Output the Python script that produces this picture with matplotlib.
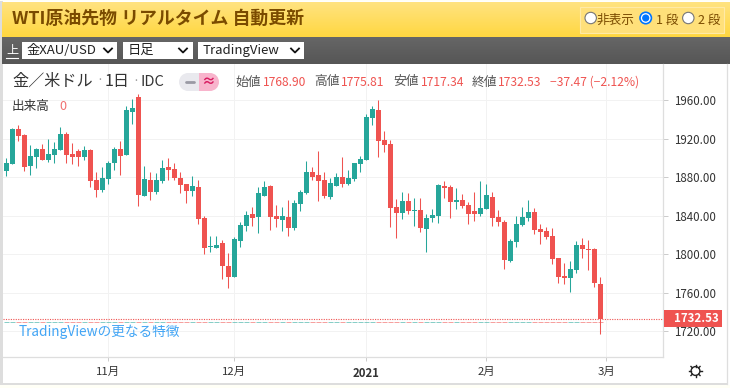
import numpy as np
import matplotlib
matplotlib.use('Agg')
import matplotlib.pyplot as plt
from matplotlib.colors import LinearSegmentedColormap
from matplotlib.patches import Circle, Rectangle

plt.rcParams['font.family'] = ['Noto Sans CJK JP', 'DejaVu Sans']

opens = [1886.6, 1893.5, 1929.9, 1923.6, 1891.4, 1900.8, 1909.1, 1897.7, 1902.9, 1908.1,
         1924.7, 1903.9, 1907.0, 1900.8, 1908.1, 1876.9, 1866.5, 1877.9, 1894.6, 1909.1,
         1902.9, 1947.5, 1963.1, 1860.3, 1876.9, 1864.4, 1875.9, 1890.4, 1888.3, 1879.0,
         1872.7, 1865.4, 1869.6, 1837.4, 1807.3, 1806.2, 1811.4, 1787.5, 1776.1, 1813.5,
         1829.1, 1841.5, 1838.4, 1860.2, 1870.6, 1839.5, 1835.3, 1838.4, 1827.0, 1851.9,
         1863.4, 1885.2, 1882.1, 1876.9, 1859.2, 1870.6, 1880.0, 1872.7, 1877.9, 1893.5,
         1897.7, 1941.3, 1949.6, 1918.5, 1914.3, 1848.8, 1842.6, 1855.1, 1844.7, 1845.7,
         1826.0, 1837.4, 1839.5, 1870.7, 1869.6, 1854.0, 1856.1, 1850.9, 1844.7, 1841.6,
         1846.8, 1859.2, 1838.5, 1833.3, 1792.7, 1812.5, 1830.1, 1837.4, 1843.6, 1826.0,
         1823.9, 1818.7, 1795.9, 1777.2, 1775.1, 1783.4, 1809.4, 1805.2, 1805.2, 1768.90]
highs = [1900.4, 1930.9, 1934.0, 1925.4, 1913.3, 1910.8, 1914.3, 1919.5, 1916.4, 1932.0,
         1926.8, 1915.3, 1909.1, 1912.2, 1909.1, 1885.2, 1890.4, 1896.6, 1911.2, 1917.4,
         1953.8, 1961.1, 1966.2, 1891.4, 1885.2, 1884.2, 1897.7, 1899.8, 1894.5, 1885.2,
         1872.7, 1881.0, 1876.9, 1839.5, 1818.7, 1818.7, 1814.5, 1801.0, 1817.6, 1833.2,
         1844.7, 1848.8, 1869.6, 1875.8, 1871.7, 1850.9, 1848.8, 1856.1, 1856.1, 1866.5,
         1896.6, 1890.4, 1907.0, 1885.2, 1878.9, 1884.1, 1900.8, 1887.3, 1894.6, 1901.8,
         1945.5, 1953.8, 1960.0, 1927.8, 1918.5, 1857.2, 1864.4, 1863.4, 1858.2, 1858.2,
         1841.6, 1846.8, 1872.7, 1875.9, 1871.7, 1868.6, 1862.4, 1854.0, 1864.4, 1875.9,
         1872.7, 1864.4, 1845.7, 1835.3, 1815.6, 1839.5, 1848.8, 1856.1, 1847.8, 1831.2,
         1828.1, 1827.0, 1795.9, 1790.7, 1792.7, 1813.5, 1816.6, 1814.6, 1806.2, 1775.81]
lows = [1881.1, 1893.5, 1917.4, 1886.2, 1882.1, 1889.4, 1897.7, 1895.6, 1894.6, 1908.1,
        1894.6, 1893.5, 1891.4, 1897.7, 1869.6, 1859.2, 1864.4, 1872.7, 1887.3, 1882.1,
        1902.9, 1935.1, 1849.9, 1860.3, 1856.1, 1862.4, 1873.8, 1876.9, 1876.9, 1863.4,
        1853.0, 1860.2, 1831.2, 1800.0, 1802.1, 1806.2, 1774.0, 1764.7, 1776.1, 1807.3,
        1823.9, 1829.1, 1821.8, 1860.2, 1824.9, 1828.0, 1823.9, 1818.7, 1824.9, 1844.7,
        1862.3, 1876.9, 1855.0, 1858.2, 1857.1, 1870.6, 1869.6, 1871.7, 1875.9, 1885.2,
        1897.7, 1934.0, 1900.8, 1906.0, 1828.1, 1816.6, 1836.4, 1841.6, 1829.1, 1822.9,
        1802.1, 1833.3, 1832.2, 1858.2, 1837.4, 1846.8, 1847.8, 1831.2, 1834.3, 1839.5,
        1846.8, 1829.1, 1829.1, 1784.4, 1791.7, 1807.3, 1829.1, 1834.3, 1820.8, 1810.4,
        1815.6, 1789.6, 1769.9, 1768.8, 1760.5, 1780.3, 1795.9, 1783.4, 1765.7, 1717.34]
closes = [1894.6, 1929.9, 1922.6, 1890.4, 1901.8, 1909.1, 1897.7, 1903.9, 1909.1, 1924.7,
          1902.9, 1900.8, 1900.8, 1908.1, 1875.9, 1866.5, 1879.0, 1894.6, 1909.1, 1901.8,
          1949.6, 1951.7, 1861.3, 1877.9, 1864.4, 1876.9, 1889.4, 1887.3, 1879.0, 1871.7,
          1865.4, 1870.6, 1836.3, 1806.2, 1808.3, 1809.3, 1787.5, 1776.1, 1815.6, 1830.1,
          1840.5, 1837.4, 1863.4, 1869.6, 1838.4, 1836.3, 1839.5, 1827.0, 1853.0, 1864.4,
          1885.2, 1880.0, 1875.8, 1860.2, 1873.7, 1880.0, 1872.7, 1879.0, 1894.6, 1898.7,
          1942.3, 1950.7, 1917.4, 1913.3, 1847.8, 1842.6, 1855.1, 1844.7, 1845.7, 1827.0,
          1837.4, 1840.5, 1871.7, 1868.6, 1854.0, 1856.1, 1849.9, 1841.6, 1841.6, 1847.8,
          1861.3, 1837.4, 1833.3, 1793.8, 1813.5, 1831.2, 1838.4, 1843.6, 1825.0, 1822.9,
          1817.7, 1794.8, 1776.1, 1775.1, 1784.4, 1809.4, 1805.2, 1804.2, 1769.9, 1732.53]

price_ticks = [1720, 1760, 1800, 1840, 1880, 1920, 1960]
month_pos = [17, 38, 60, 80, 100]
month_labels = ['11月', '12月', '2021', '2月', '3月']

last_price = 1732.53
volume_line = 1730.0

GREEN = '#26a69a'
RED = '#ef5350'
GRID = '#f2f2f2'
BORDER = '#dedede'
TEXT = '#333333'

fig = plt.figure(figsize=(7.3, 3.88), dpi=100, facecolor='#fffff6')


def px_axes(zorder):
    a = fig.add_axes([0, 0, 1, 1], zorder=zorder)
    a.set_xlim(0, 730)
    a.set_ylim(388, 0)
    a.axis('off')
    a.patch.set_alpha(0)
    return a


def gradient(a, x0, x1, y0, y1, c_top, c_bottom):
    cmap = LinearSegmentedColormap.from_list('g', [c_top, c_bottom])
    a.imshow(np.linspace(0, 1, 64).reshape(-1, 1), cmap=cmap, aspect='auto',
             extent=(x0, x1, y1, y0), zorder=1)
    a.set_xlim(0, 730)
    a.set_ylim(388, 0)


# page behind the chart
back = px_axes(0)
back.add_patch(Rectangle((0, 1), 730, 383.5, fc='white', ec='none'))
back.add_patch(Rectangle((0, 1), 2.5, 384, fc='#dddddd', ec='none'))
back.add_patch(Rectangle((0, 383), 728, 2, fc='#dddddd', ec='none'))
gradient(back, 2, 730, 2, 37, '#ffe381', '#ffd740')
gradient(back, 2, 730, 37, 64, '#666666', '#565656')

# chart pane
ax = fig.add_axes([3 / 730, 1 - 357 / 388, 660 / 730, 293 / 388], zorder=1)
ax.patch.set_alpha(0)
x = np.arange(len(closes))
colors = [GREEN if c >= o else RED for o, c in zip(opens, closes)]
body_low = np.minimum(opens, closes)
body_h = np.abs(np.array(closes) - np.array(opens))

vol = ax.hlines([volume_line] * len(x), x - 0.42, x + 0.42, colors=colors, alpha=0.55, lw=0.72, zorder=2)
vol.set_snap(True)
ax.axhline(last_price, color=RED, lw=0.8, ls=(0, (1, 1.2)), zorder=3, snap=True)
wicks = ax.vlines(x, lows, highs, colors=colors, lw=0.75, zorder=4)
wicks.set_snap(True)
ax.bar(x, body_h, bottom=body_low, width=5.1 / 6, color=colors, linewidth=0, zorder=5)

ax.set_xlim((3 - 6.3) / 6, (663 - 6.3) / 6)
ax.set_ylim(1960 - (357 - 100.2) / 0.9625, 1960 - (64 - 100.2) / 0.9625)
ax.set_xticks(month_pos)
ax.set_xticklabels(month_labels, fontsize=8.2, color=TEXT)
ax.set_yticks(price_ticks)
ax.set_yticklabels(['%.2f' % p for p in price_ticks], fontsize=8.3, color=TEXT)
ax.get_xticklabels()[2].set_fontweight('bold')
ax.yaxis.tick_right()
ax.tick_params(axis='y', length=3.6, width=0.72, color='#cccccc', pad=4)
ax.tick_params(axis='x', length=2.9, width=0.72, color='#cccccc', pad=4)
ax.grid(True, color=GRID, lw=0.72)
ax.set_axisbelow(True)
for side in ['top', 'left']:
    ax.spines[side].set_visible(False)
for side in ['right', 'bottom']:
    ax.spines[side].set_color(BORDER)
    ax.spines[side].set_linewidth(0.9)

# everything painted over the chart
top = px_axes(2)
top.plot([727, 727], [64, 384], color=BORDER, lw=0.9)
top.text(12, 19, 'WTI原油先物 リアルタイム 自動更新', fontsize=12.9, fontweight='bold',
         color='#7a4b00', va='center')

# radio group
top.add_patch(Rectangle((580, 6.5), 144, 26.5, fc='#ffe07a', ec='#ffeaa6', lw=0.8))
for cx in [590.7, 688.3]:
    top.add_patch(Circle((cx, 18), 5.7, fc='white', ec='#767676', lw=0.8))
top.add_patch(Circle((645.7, 18), 5.7, fc='white', ec='#0075ff', lw=1.2))
top.add_patch(Circle((645.7, 18), 3.6, fc='#0075ff', ec='none'))
top.text(597, 20, '非表示', fontsize=9.1, color='#7a4b00', va='center')
top.text(656, 20.5, '1 段', fontsize=9.1, color='#7a4b00', va='center')
top.text(698, 20.5, '2 段', fontsize=9.1, color='#7a4b00', va='center')

# select boxes
top.text(6, 50, '上', fontsize=8.7, color='white', va='center')
top.plot([6, 18], [57.5, 57.5], color='white', lw=0.8)
selects = [(22, 117, '金XAU/USD', 108), (123, 193, '日足', 183), (198, 304, 'TradingView', 295)]
for x0, x1, label, arrow in selects:
    top.add_patch(Rectangle((x0, 42), x1 - x0, 17, fc='white', ec='none'))
    top.text(x0 + 4.5, 50.5, label, fontsize=9.5, color='#222222', va='center')
    top.plot([arrow - 4, arrow, arrow + 4], [48.5, 52.5, 48.5], color='#111111', lw=1.3)

# legend row
top.text(12, 81.5, '金／米ドル', fontsize=11.6, color=TEXT, va='center')
top.text(96, 80, '·', fontsize=9, color='#999999', va='center')
top.text(105, 81.5, '1日', fontsize=11.6, color=TEXT, va='center')
top.text(132, 81.5, '·', fontsize=9, color='#999999', va='center')
top.text(141, 82.5, 'IDC', fontsize=10.5, color=TEXT, va='center')

top.add_patch(Circle((188, 82), 9, fc='#e9e9ee', ec='none'))
top.add_patch(Rectangle((188, 73), 11, 18, fc='#e9e9ee', ec='none'))
top.add_patch(Circle((210, 82), 9, fc='#f8b4cc', ec='none'))
top.add_patch(Rectangle((199, 73), 11, 18, fc='#f8b4cc', ec='none'))
top.plot([186, 194], [82, 82], color='#9a9aa4', lw=2, solid_capstyle='round')
top.text(208, 81.5, '≈', fontsize=10, fontweight='bold', color='#d81b60', ha='center', va='center')

ohlc_y = 82
top.text(235.7, ohlc_y, '始値', fontsize=9.2, color='#555555', va='center')
top.text(263.3, ohlc_y, '1768.90', fontsize=8.7, color=RED, va='center')
top.text(314.3, ohlc_y, '高値', fontsize=9.2, color='#555555', va='center')
top.text(340.7, ohlc_y, '1775.81', fontsize=8.7, color=RED, va='center')
top.text(393.3, ohlc_y, '安値', fontsize=9.2, color='#555555', va='center')
top.text(420.7, ohlc_y, '1717.34', fontsize=8.7, color=RED, va='center')
top.text(471.7, ohlc_y, '終値', fontsize=9.2, color='#555555', va='center')
top.text(498.3, ohlc_y, '1732.53', fontsize=8.7, color=RED, va='center')
top.text(550, ohlc_y, '−37.47 (−2.12%)', fontsize=8.7, color=RED, va='center')

top.text(12, 106.5, '出来高', fontsize=9.1, color=TEXT, va='center')
top.text(59, 106.5, '0', fontsize=9.1, color='#f07070', va='center')

top.text(19, 332, 'TradingViewの更なる特徴', fontsize=9.85, color='#42a5f5', va='center')

# last price tag
top.add_patch(Rectangle((663.5, 310), 58, 17, fc=RED, ec='none'))
top.text(674, 318.5, '1732.53', fontsize=8.3, fontweight='bold', color='white', va='center')

# gear in the corner
ang = np.arange(8) * np.pi / 4
top.add_patch(Circle((695.5, 371), 4.4, fc='none', ec='#222222', lw=1))
for a in ang:
    top.plot([695.5 + 4.4 * np.cos(a), 695.5 + 6.4 * np.cos(a)],
             [371 + 4.4 * np.sin(a), 371 + 6.4 * np.sin(a)], color='#222222', lw=1)

fig.savefig('out.png', dpi=100, facecolor=fig.get_facecolor())
